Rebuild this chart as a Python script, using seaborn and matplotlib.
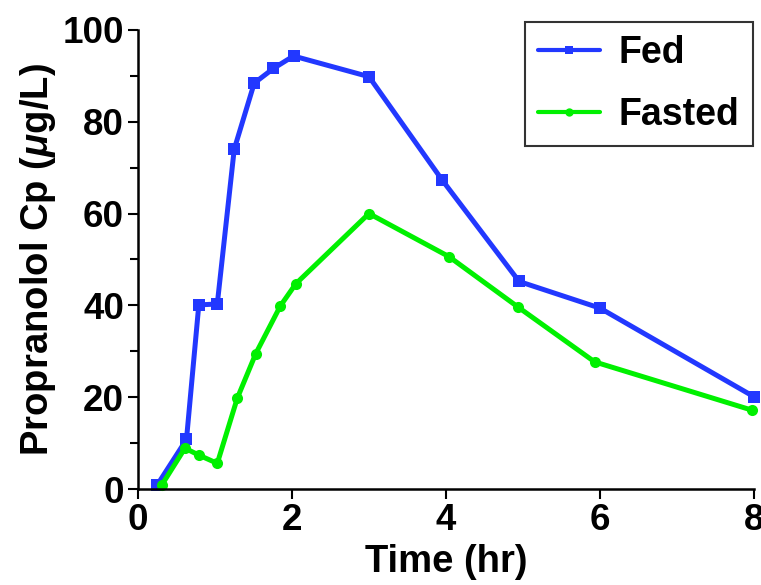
import pandas as pd
import matplotlib
matplotlib.use("Agg")
import matplotlib.pyplot as plt
import seaborn as sns
from matplotlib.ticker import MultipleLocator

# Plasma concentration values
fed_time = [0.25, 0.63, 0.79, 1.03, 1.25, 1.51, 1.76, 2.02, 3.0, 3.95, 4.95, 6.0, 8.0]
fed_cp = [0.9, 10.8, 40.1, 40.3, 74.0, 88.4, 91.6, 94.3, 89.8, 67.3, 45.2, 39.4, 20.1]

fasted_time = [0.31, 0.61, 0.79, 1.03, 1.29, 1.53, 1.85, 2.05, 3.0, 4.04, 4.93, 5.93, 7.97]
fasted_cp = [0.9, 8.9, 7.4, 5.6, 19.8, 29.5, 39.9, 44.7, 60.0, 50.6, 39.7, 27.7, 17.2]

conditions = ["Fed", "Fasted"]
colors = {"Fed": "#2238ff", "Fasted": "#00f000"}
markers = {"Fed": "s", "Fasted": "o"}


def build_frame():
    fed = pd.DataFrame({"Time": fed_time, "Cp": fed_cp, "Condition": "Fed"})
    fasted = pd.DataFrame({"Time": fasted_time, "Cp": fasted_cp, "Condition": "Fasted"})
    return pd.concat([fed, fasted], ignore_index=True)


def plot(data):
    sns.set_style("ticks")
    plt.rcParams["font.family"] = ["Liberation Sans", "DejaVu Sans"]
    plt.rcParams["font.weight"] = "bold"
    plt.rcParams["text.color"] = "black"
    plt.rcParams["axes.labelcolor"] = "black"
    plt.rcParams["xtick.color"] = "black"
    plt.rcParams["ytick.color"] = "black"
    plt.rcParams["mathtext.fontset"] = "custom"
    plt.rcParams["mathtext.it"] = "Liberation Sans:italic:bold"
    plt.rcParams["mathtext.rm"] = "Liberation Sans:bold"

    fig = plt.figure(figsize=(7.61, 5.85), dpi=100)
    ax = fig.add_axes([0.1813, 0.164, 0.8095, 0.785])

    sns.lineplot(data=data, x="Time", y="Cp", hue="Condition", style="Condition",
                 hue_order=conditions, style_order=conditions,
                 palette=colors, markers=markers, dashes=False,
                 linewidth=3.6, markersize=8, markeredgewidth=0,
                 sort=False, ax=ax, clip_on=False)

    ax.set_xlim(0, 8)
    ax.set_ylim(0, 100)
    ax.xaxis.set_major_locator(MultipleLocator(2))
    ax.yaxis.set_major_locator(MultipleLocator(20))
    ax.yaxis.set_minor_locator(MultipleLocator(10))
    ax.tick_params(axis="both", which="major", labelsize=26.5, width=1.5, length=7,
                   direction="out", colors="black", pad=3)
    ax.tick_params(axis="y", which="minor", width=1.5, length=6, direction="out",
                   colors="black")
    for lab in ax.get_xticklabels() + ax.get_yticklabels():
        lab.set_fontweight("bold")

    for side in ["top", "right"]:
        ax.spines[side].set_visible(False)
    for side in ["left", "bottom"]:
        ax.spines[side].set_linewidth(1.8)
        ax.spines[side].set_color("black")

    ax.set_xlabel("Time (hr)", fontsize=27.5, fontweight="bold", labelpad=4)
    ax.set_ylabel(r"Propranolol Cp ($\mu$g/L)", fontsize=27.5, fontweight="bold")
    ax.yaxis.set_label_coords(-0.13, 0.5)

    leg = ax.legend(loc="upper right", bbox_to_anchor=(0.998, 1.017), fontsize=27,
                    frameon=True, fancybox=False, edgecolor="black",
                    handlelength=1.65, handletextpad=0.5, borderpad=0.35,
                    labelspacing=0.69, borderaxespad=0, title=None)
    leg.get_frame().set_linewidth(1.5)
    for text in leg.get_texts():
        text.set_fontweight("bold")
        text.set_color("black")
    for line in leg.get_lines():
        line.set_linewidth(3)
        line.set_markersize(6)

    fig.savefig("out.png", dpi=100)
    plt.close(fig)


if __name__ == "__main__":
    plot(build_frame())
